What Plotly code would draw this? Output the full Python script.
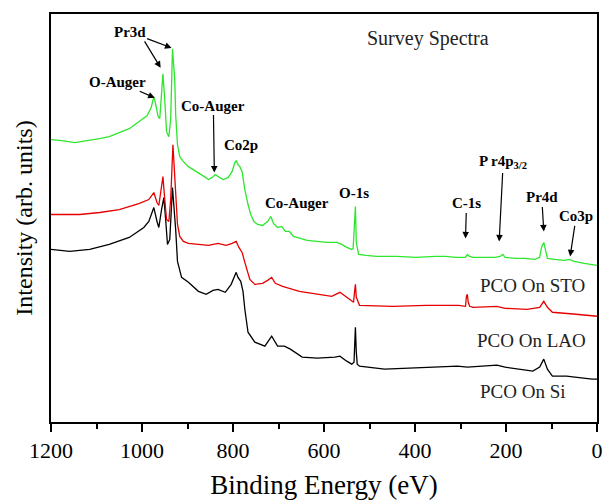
import plotly.graph_objects as go

# Binding energy (eV) and intensity (arb. units)
sto_energy = [1200, 1176, 1148, 1115, 1093, 1072, 1050, 1028, 1007, 989, 980, 974, 970, 965, 961, 957, 954, 950, 946,
              941, 937, 933, 928, 926, 922, 917, 909, 898, 876, 863, 854, 846, 839, 833, 822, 811, 802, 796, 793, 789,
              785, 780, 774, 767, 761, 754, 746, 735, 724, 717, 711, 702, 693, 685, 676, 667, 659, 648, 637, 615, 593,
              572, 561, 550, 539, 536, 533, 531, 529, 526, 524, 507, 485, 441, 398, 354, 333, 311, 289, 285, 280, 272,
              246, 224, 213, 207, 202, 180, 159, 137, 126, 122, 117, 113, 109, 93, 72, 61, 50, 28, 7, 0]
sto_counts = [283, 282, 280, 282, 284, 286, 290, 294, 301, 307, 315, 326, 319, 307, 304, 328, 349, 323, 291,
              286, 303, 374, 343, 308, 278, 266, 261, 256, 250, 246, 243, 245, 248, 246, 243, 245, 251, 260, 262, 258,
              256, 251, 233, 218, 208, 201, 198, 197, 201, 206, 199, 195, 196, 191, 191, 186, 185, 183, 182, 181, 180,
              180, 178, 175, 173, 174, 200, 216, 180, 170, 168, 167, 166, 166, 165, 166, 166, 165, 165, 168, 166, 165,
              165, 165, 166, 168, 165, 164, 164, 163, 165, 175, 180, 173, 164, 163, 162, 163, 161, 159, 157, 157]

lao_energy = [1200, 1137, 1093, 1050, 1007, 985, 974, 967, 963, 957, 954, 950, 946, 941, 937, 932, 926, 922, 917, 909,
              898, 876, 854, 833, 815, 802, 793, 787, 780, 774, 763, 752, 735, 724, 715, 707, 691, 654, 615, 583, 565,
              550, 539, 535, 533, 531, 529, 522, 448, 376, 304, 293, 289, 287, 285, 283, 280, 272, 220, 202, 154, 126,
              117, 109, 98, 46, 2, 0]
lao_counts = [208, 208, 210, 213, 219, 223, 230, 220, 217, 238, 246, 223, 203, 201, 223, 278, 233, 198, 186, 181,
              179, 178, 177, 179, 177, 179, 181, 175, 170, 160, 143, 138, 139, 142, 145, 139, 136, 131, 128, 126, 130,
              125, 121, 120, 130, 138, 125, 117, 116, 117, 117, 116, 116, 126, 128, 120, 116, 115, 116, 114, 113, 115,
              121, 115, 110, 108, 106, 106]

si_energy = [1200, 1159, 1115, 1072, 1028, 996, 985, 974, 967, 963, 957, 952, 948, 944, 939, 933, 926, 922, 913, 898,
             876, 859, 844, 833, 817, 804, 793, 789, 783, 778, 774, 767, 752, 730, 715, 702, 687, 674, 648, 615, 576,
             565, 550, 539, 534, 531, 529, 527, 522, 467, 359, 307, 285, 220, 202, 141, 126, 117, 109, 98, 67, 50, 11, 0]
si_counts = [173, 171, 173, 178, 185, 195, 201, 215, 201, 195, 213, 225, 203, 178, 183, 235, 193, 161, 145, 140,
             131, 128, 132, 133, 130, 138, 150, 145, 141, 131, 113, 90, 80, 76, 86, 76, 76, 73, 65, 64, 65,
             66, 61, 58, 60, 95, 70, 58, 56, 53, 55, 56, 55, 57, 55, 51, 55, 63, 53, 46, 46, 45, 43, 43]

x_ticks = [1200, 1000, 800, 600, 400, 200, 0]

serif = "Liberation Serif"

fig = go.Figure()
fig.add_trace(go.Scatter(x=si_energy, y=si_counts, mode="lines", name="PCO On Si",
                         line=dict(color="#000000", width=1.3)))
fig.add_trace(go.Scatter(x=lao_energy, y=lao_counts, mode="lines", name="PCO On LAO",
                         line=dict(color="#e60000", width=1.3)))
fig.add_trace(go.Scatter(x=sto_energy, y=sto_counts, mode="lines", name="PCO On STO",
                         line=dict(color="#2ee62e", width=1.3)))

bold = dict(family=serif, size=15, color="black")
arrow_style = dict(showarrow=True, arrowhead=2, arrowsize=1.1, arrowwidth=1.2,
                   arrowcolor="black", standoff=0)

# peak labels: text, arrow tip (x, y), label offset in pixels (ax, ay); None = no arrow
peak_labels = [
    ("<b>Pr3d</b>", 935, 375, -42, -16),
    ("<b>O-Auger</b>", 972, 325, -37, -16),
    ("<b>Co-Auger</b>", 841, 250, -1, -67),
    ("<b>C-1s</b>", 289, 184, 1, -35),
    ("<b>P r4p</b><sub><b>3/2</b></sub>", 215, 181, 4, -79),
    ("<b>Pr4d</b>", 117, 191, -2, -34),
    ("<b>Co3p</b>", 59, 166, 6, -40),
]
for t, x, y, ax, ay in peak_labels:
    fig.add_annotation(x=x, y=y, ax=ax, ay=ay, text=t, font=bold, **arrow_style)

# second Pr3d arrow
fig.add_annotation(x=959, y=355, ax=-17, ay=-28, text="", **arrow_style)

for t, x, y in [("<b>Co2p</b>", 783, 278), ("<b>Co-Auger</b>", 659, 220), ("<b>O-1s</b>", 533, 230)]:
    fig.add_annotation(x=x, y=y, text=t, showarrow=False, font=bold)

for t, x, y, s in [("Survey Spectra", 372, 384, 20), ("PCO On STO", 141, 137, 19),
                   ("PCO On LAO", 143, 82, 19), ("PCO On Si", 163, 31, 19)]:
    fig.add_annotation(x=x, y=y, text=t, showarrow=False, font=dict(family=serif, size=s, color="#222222"))

fig.update_layout(
    width=610, height=502,
    margin=dict(l=51, r=7, t=14, b=79),
    paper_bgcolor="white", plot_bgcolor="white",
    showlegend=False,
    font=dict(family=serif, color="black"),
)
fig.update_xaxes(
    range=[1200, 0], tickvals=x_ticks, ticktext=[str(v) for v in x_ticks],
    ticks="outside", ticklen=8, tickwidth=2, tickcolor="black",
    minor=dict(dtick=100, ticks="outside", ticklen=5, tickwidth=2, tickcolor="black"),
    showline=True, linewidth=2, linecolor="black", mirror=True,
    showgrid=False, zeroline=False,
    tickfont=dict(family=serif, size=22, color="black"),
    title=dict(text="Binding Energy (eV)", font=dict(family=serif, size=27, color="black"), standoff=13),
)
fig.update_yaxes(
    range=[0, 409], showticklabels=False, ticks="",
    showline=True, linewidth=2, linecolor="black", mirror=True,
    showgrid=False, zeroline=False,
    title=dict(text="Intensity (arb. units)", font=dict(family=serif, size=24, color="black"), standoff=10),
)

fig.write_html("out.html", config={"displayModeBar": False},
               post_script="document.body.style.margin='0';document.body.style.overflow='hidden';")
